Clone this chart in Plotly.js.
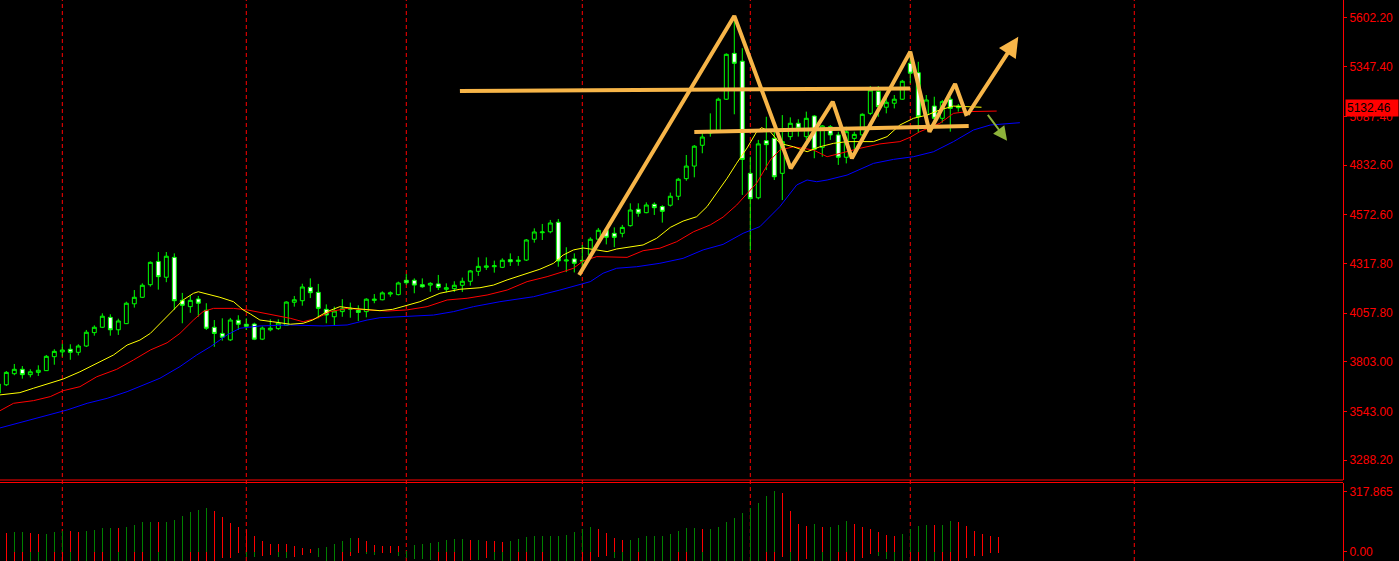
<!DOCTYPE html>
<html>
<head>
<meta charset="utf-8">
<script src="https://cdn.plot.ly/plotly-3.0.1.min.js"></script>
<style>html,body{margin:0;padding:0;background:#000;}#chart{width:1399px;height:561px;}</style>
</head>
<body>
<div id="chart"></div>
<script>
// ---- Candles (index -1 .. 119) ----
const openP  = [3639,3682,3740,3763,3735,3747,3756,3829,3854,3868,3852,3885,3955,3983,4035,3970,4002,4106,4140,4206,4328,4245,4349,4124,4091,4131,4072,3983,3951,3917,4020,3999,4000,3921,3970,3976,3993,4114,4122,4192,4166,4077,4038,4065,4077,4072,4065,4124,4127,4157,4154,4229,4229,4206,4204,4210,4182,4185,4203,4224,4276,4297,4300,4297,4337,4328,4335,4444,4478,4483,4533,4330,4341,4329,4361,4444,4491,4475,4475,4515,4601,4583,4627,4615,4622,4669,4761,4827,4936,5000,5012,5177,5417,5376,4789,4661,4960,4972,4789,4981,5051,4981,5089,4925,5033,4990,4873,4972,4990,5103,5218,5135,5156,5177,5365,5316,5094,5141,5077,5177,5141];
const highP  = [3707,3754,3791,3780,3763,3784,3838,3868,3896,3894,3894,3969,3993,4056,4051,4028,4117,4178,4213,4328,4377,4377,4370,4163,4150,4147,4109,4021,4030,4032,4046,4030,4007,3988,4025,4025,4119,4147,4211,4239,4210,4103,4091,4130,4112,4098,4135,4157,4171,4171,4222,4262,4239,4239,4219,4257,4213,4224,4243,4283,4349,4349,4332,4344,4370,4356,4445,4501,4524,4545,4550,4402,4370,4414,4454,4503,4501,4506,4519,4632,4632,4637,4637,4622,4688,4765,4885,4937,4999,5103,5185,5417,5613,5444,4876,4964,5085,5007,5094,5082,5072,5112,5094,5042,5042,5007,5033,5007,5103,5246,5246,5190,5199,5278,5417,5373,5199,5190,5173,5190,5152];
const lowP   = [3623,3676,3732,3714,3721,3728,3754,3787,3829,3813,3836,3880,3939,3979,3939,3943,4000,4086,4136,4196,4180,4219,4074,4004,4059,4038,3969,3881,3913,3911,3969,3969,3916,3916,3962,3969,3990,4091,4096,4136,4030,4004,3991,4038,4033,4016,4035,4109,4124,4143,4150,4206,4161,4190,4169,4178,4166,4168,4168,4201,4252,4283,4269,4293,4304,4305,4330,4426,4440,4475,4300,4272,4270,4293,4351,4435,4417,4402,4454,4510,4562,4580,4571,4531,4615,4649,4750,4768,4894,4981,5009,5173,5098,4676,4388,4653,4806,4754,4649,4964,4981,4964,4868,4876,4964,4833,4841,4911,4981,5094,5085,5103,5129,5173,5260,5001,5068,5042,5054,5007,5112];
const closeP = [3686,3747,3763,3735,3750,3758,3831,3857,3864,3852,3885,3957,3983,4041,3970,4016,4109,4140,4203,4323,4248,4355,4122,4098,4124,4109,3978,3951,3931,4021,3999,3988,3921,3979,3978,4005,4115,4127,4194,4164,4082,4047,4068,4080,4082,4061,4130,4130,4163,4163,4215,4216,4204,4195,4213,4192,4190,4203,4224,4278,4302,4304,4305,4334,4326,4334,4440,4482,4482,4529,4330,4335,4318,4333,4444,4491,4454,4454,4506,4597,4580,4623,4609,4590,4669,4758,4827,4931,4979,5011,5177,5412,5365,4862,4656,4943,4939,4771,4955,5051,5025,5077,4915,5037,4990,4873,5007,4993,5098,5225,5138,5161,5177,5271,5313,5085,5173,5077,5164,5129,5132.46];
const firstIndex = -1;
const lastPrice = 5132.46;

// ---- Moving averages (bar index, value) ----
const maFastIdx = [-0.8,1.7,3.4,5.5,7.1,9.2,11.3,13.4,15.1,16.7,18.0,19.2,20.9,22.1,23.4,24.0,25.1,26.7,28.4,29.6,30.5,31.7,33.3,35.5,37.1,38.3,40.1,41.7,43.3,45.1,46.7,48.3,50.1,51.7,54.2,56.7,59.2,60.9,62.6,65.1,66.7,68.4,69.6,70.9,72.1,73.8,75.1,76.3,78.0,79.6,81.3,83.0,84.6,86.3,87.6,88.8,90.1,91.3,92.6,93.8,94.4,95.5,96.7,98.4,100.1,101.7,103.4,105.1,106.7,108.4,110.1,111.7,113.4,115.1,116.7,118.4,120.1,121.9];
const maFastVal = [3629,3641,3664,3693,3712,3750,3794,3838,3890,3916,3951,4004,4074,4126,4161,4169,4157,4140,4117,4074,4053,4021,4012,3999,4004,4021,4065,4091,4082,4077,4070,4077,4100,4117,4161,4182,4190,4204,4231,4266,4287,4318,4361,4388,4398,4388,4379,4393,4405,4414,4449,4506,4539,4562,4615,4685,4763,4842,4922,5007,5028,5007,4946,4928,4902,4928,4946,4955,4955,4955,4981,5042,5077,5094,5121,5141,5138,5135];
const maMidIdx = [-0.8,0.9,3.4,5.5,7.1,9.2,11.3,13.8,15.9,18.0,20.1,21.7,23.4,24.6,25.9,28.4,30.1,30.9,33.4,35.5,37.1,38.8,40.5,42.6,45.1,47.6,50.1,52.6,55.1,57.6,60.1,62.6,65.1,67.6,69.6,70.9,72.1,73.8,77.6,79.6,81.7,83.8,85.9,88.0,89.6,91.3,92.1,93.8,95.5,96.7,98.4,100.9,102.6,104.2,106.7,109.2,111.7,113.0,114.2,116.7,118.4,120.1,122.1,123.8];
const maMidVal = [3546,3585,3599,3620,3651,3672,3724,3763,3812,3864,3902,3951,4021,4065,4082,4082,4074,4068,4047,4030,4012,4030,4065,4082,4074,4068,4074,4091,4126,4135,4152,4178,4222,4248,4274,4292,4330,4353,4349,4384,4397,4431,4483,4519,4560,4623,4660,4738,4859,4911,4928,4911,4876,4894,4920,4943,4955,4978,5007,5051,5103,5112,5112,5115];
const maSlowIdx = [-0.8,3.0,5.5,7.6,10.1,12.6,15.1,17.1,19.2,21.7,23.8,25.5,27.6,29.2,30.5,31.7,35.5,39.6,42.6,45.1,46.7,50.1,53.4,55.9,58.4,61.7,65.9,69.2,73.0,74.6,76.3,78.8,81.7,84.6,87.1,89.6,92.1,94.2,96.7,98.8,100.1,101.3,102.6,105.1,108.4,110.9,113.4,115.9,118.4,120.9,123.0,126.7];
const maSlowVal = [3456,3498,3524,3550,3585,3611,3646,3681,3716,3777,3838,3881,3943,3978,3986,3990,3995,3990,3995,4021,4033,4042,4047,4065,4091,4117,4143,4178,4222,4266,4292,4300,4318,4344,4388,4417,4475,4510,4615,4728,4754,4745,4754,4780,4841,4862,4876,4902,4955,5016,5042,5054];

// ---- Indicator sub-window (index 0 .. 124) ----
const indUpper = [97.8,103.1,103.1,97.8,92.6,92.6,103.1,108.3,108.3,103.1,108.3,113.5,124.0,124.0,124.0,129.3,139.7,155.5,155.5,155.5,155.5,165.9,186.9,207.9,218.3,228.8,213.1,181.7,150.2,129.3,113.5,82.1,55.9,40.2,40.2,40.2,29.7,19.2,14.0,19.2,24.5,40.2,55.9,71.6,71.6,55.9,34.9,29.7,29.7,29.7,3.5,34.9,40.2,45.4,50.7,61.1,66.4,66.4,61.1,61.1,55.9,55.9,50.7,55.9,66.4,76.9,82.1,82.1,82.1,82.1,87.3,103.1,118.8,129.3,118.8,97.8,71.6,61.1,61.1,71.6,82.1,82.1,82.1,92.6,108.3,124.0,124.0,118.8,118.8,129.3,155.5,176.4,202.6,228.8,255.0,291.7,317.865,307.4,213.1,145.0,134.5,145.0,129.3,129.3,139.7,160.7,145.0,129.3,118.8,103.1,87.3,82.1,92.6,118.8,134.5,139.7,139.7,139.7,160.7,155.5,134.5,108.3,92.6,82.1,76.9];
const indUpperUp = [0,1,1,0,0,1,1,1,0,0,1,1,1,1,0,1,1,1,1,0,1,1,1,1,1,1,0,0,0,0,0,0,0,0,0,0,0,0,0,1,1,1,1,1,0,0,0,0,0,0,1,1,1,1,1,1,1,1,0,1,0,0,0,1,1,1,1,1,1,1,1,1,1,1,0,0,0,0,1,1,1,1,1,1,1,1,1,0,1,1,1,1,1,1,1,1,1,0,0,0,0,1,0,1,1,1,0,0,0,0,0,0,1,1,1,1,0,1,1,0,0,0,0,0,0];
const indLower = [-50,-50,-50,-50,-50,-50,-50,-50,-50,-50,-50,-50,-50,-50,-50,-50,-50,-50,-50,-50,-50,-50,-50,-50,-50,-50,-50,-34.9,-33.2,-7.0,-27.9,-27.9,-21.0,-17.5,-27.9,-31.4,-27.9,-17.5,-7.0,-27.9,-50,-50,-50,-21.0,-7.0,-12.2,-17.5,-7.0,-7.0,-22.7,-34.9,-38.4,-38.4,-43.7,-50,-50,-50,-50,-43.7,-43.7,-34.9,-43.7,-50,-50,-50,-50,-50,-50,-50,-50,-50,-50,-50,-50,-27.9,-22.7,-33.2,-50,-50,-50,-50,-50,-50,-50,-50,-50,-50,-50,-50,-50,-50,-50,-50,-50,-50,-50,-50,-27.9,-50,-50,-38.4,-50,-50,-50,-50,-50,-50,-33.2,-12.2,-22.7,-40.2,-50,-50,-50,-50,-50,-50,-50,-50,-50,-33.2,-22.7,-22.7,-7.0,-7.0];
const indLowerUp = [0,0,0,1,1,1,0,0,1,0,1,0,0,1,1,1,0,0,1,1,1,1,1,0,0,0,0,0,0,0,1,1,0,0,1,1,0,0,0,1,1,1,0,0,0,1,1,0,0,1,1,1,1,1,0,0,0,1,0,1,0,1,1,1,0,0,1,0,1,1,1,1,0,0,0,0,1,1,1,0,1,1,1,1,0,0,1,1,1,1,1,1,1,1,1,0,0,0,1,0,0,1,1,1,0,0,0,0,0,1,1,1,1,0,0,1,1,0,0,0,0,0,0,0,0];

// ---- Axis labels ----
const priceTicks = [5602.20,5347.40,5087.40,4832.60,4572.60,4317.80,4057.80,3803.00,3543.00,3288.20];
const priceTickText = ['5602.20','5347.40','5087.40','4832.60','4572.60','4317.80','4057.80','3803.00','3543.00','3288.20'];
const indTicks = [0, 317.865];
const indTickText = ['0.00','317.865'];
const separators = [7,30,50,72,93,113,141];

// ---- Hand-drawn analysis lines (bar index, price) ----
const zigIdx = [71.6,91.0,98.05,103.3,105.7,113.0,115.4,118.6,120.05];
const zigVal = [4257,5613,4815,5164,4868,5426,5007,5257,5089];
const arrowTip = [126.5,5504];
const resistIdx = [56.7,113.0];
const resistVal = [5220,5233];
const supportIdx = [86.0,120.3];
const supportVal = [5005,5037];
const smallArrowFrom = [122.55,5103];
const smallArrowTo = [125.1,4960];

// ---- build ----
const idx = openP.map((_, i) => i + firstIndex);
const indIdx = indUpper.map((_, i) => i);
const GREEN = '#00FF00', RED = '#FF0000', DKGREEN = '#008000', ORANGE = '#F7B548';

const traces = [
  {type:'bar', x:indIdx, y:indUpper, base:0, width:0.14, xaxis:'x', yaxis:'y2',
   marker:{color:indUpperUp.map(u=>u?DKGREEN:RED), line:{width:0}}, hoverinfo:'skip'},
  {type:'bar', x:indIdx, y:indLower, base:0, width:0.14, xaxis:'x', yaxis:'y2',
   marker:{color:indLowerUp.map(u=>u?DKGREEN:RED), line:{width:0}}, hoverinfo:'skip'},
  {type:'scatter', mode:'lines', x:maSlowIdx, y:maSlowVal, line:{color:'#0000FF', width:1}, hoverinfo:'skip'},
  {type:'scatter', mode:'lines', x:maMidIdx, y:maMidVal, line:{color:'#FF0000', width:1}, hoverinfo:'skip'},
  {type:'scatter', mode:'lines', x:maFastIdx, y:maFastVal, line:{color:'#FFFF00', width:1}, hoverinfo:'skip'},
  {type:'candlestick', x:idx, open:openP, high:highP, low:lowP, close:closeP, whiskerwidth:0,
   increasing:{line:{color:GREEN, width:1}, fillcolor:'#000000'},
   decreasing:{line:{color:GREEN, width:1}, fillcolor:'#FFFFFF'}, hoverinfo:'skip'},
  {type:'scatter', mode:'lines', x:resistIdx, y:resistVal, line:{color:ORANGE, width:4}, hoverinfo:'skip'},
  {type:'scatter', mode:'lines', x:supportIdx, y:supportVal, line:{color:ORANGE, width:4}, hoverinfo:'skip'},
  {type:'scatter', mode:'lines', x:zigIdx, y:zigVal, line:{color:ORANGE, width:4}, hoverinfo:'skip'}
];

const shapes = [
  {type:'line', xref:'paper', yref:'paper', x0:0, x1:1, y0:(561-480)/561, y1:(561-480)/561, line:{color:RED, width:1}},
  {type:'line', xref:'paper', yref:'paper', x0:0, x1:1, y0:(561-482.5)/561, y1:(561-482.5)/561, line:{color:RED, width:1}}
];
separators.forEach(s => shapes.push({type:'line', xref:'x', yref:'paper', x0:s, x1:s, y0:0, y1:1, layer:'below',
  line:{color:RED, width:1, dash:'4px,3px'}}));

const annotations = [
  {xref:'x', yref:'y', x:arrowTip[0], y:arrowTip[1], axref:'x', ayref:'y',
   ax:zigIdx[zigIdx.length-1], ay:zigVal[zigVal.length-1], text:'', showarrow:true,
   arrowhead:2, arrowsize:1, arrowwidth:4, arrowcolor:ORANGE, standoff:0, startstandoff:0},
  {xref:'x', yref:'y', x:smallArrowTo[0], y:smallArrowTo[1], axref:'x', ayref:'y',
   ax:smallArrowFrom[0], ay:smallArrowFrom[1], text:'', showarrow:true,
   arrowhead:2, arrowsize:1.4, arrowwidth:2, arrowcolor:'#8DB23A', standoff:0, startstandoff:0},
  {xref:'paper', yref:'y', x:1, y:lastPrice, xanchor:'left', xshift:2, showarrow:false,
   text:lastPrice.toFixed(2), bgcolor:RED, borderpad:1, width:50, align:'left',
   font:{family:'Liberation Sans, Arial, sans-serif', size:12, color:'#000000'}}
];

const axisFont = {family:'Liberation Sans, Arial, sans-serif', size:12, color:RED};
const layout = {
  width:1399, height:561,
  margin:{l:0, r:56, t:0, b:0, pad:0},
  paper_bgcolor:'#000000', plot_bgcolor:'#000000',
  showlegend:false, barmode:'overlay', bargap:0,
  xaxis:{range:[-0.79, 167.09], showgrid:false, zeroline:false, showticklabels:false, ticks:'',
         showline:false, rangeslider:{visible:false}, fixedrange:true},
  yaxis:{domain:[(561-480)/561, 1], range:[3183.5, 5696.4], side:'right', anchor:'x',
         tickvals:priceTicks, ticktext:priceTickText, tickfont:axisFont,
         ticks:'outside', ticklen:3, tickcolor:RED, showline:true, linecolor:RED, linewidth:1,
         showgrid:false, zeroline:false, fixedrange:true},
  yaxis2:{domain:[0, (561-482.5)/561], range:[-48.7, 365.2], side:'right', anchor:'x',
         tickvals:indTicks, ticktext:indTickText, tickfont:axisFont,
         ticks:'outside', ticklen:3, tickcolor:RED, showline:true, linecolor:RED, linewidth:1,
         showgrid:false, zeroline:false, fixedrange:true},
  shapes:shapes, annotations:annotations
};

Plotly.newPlot('chart', traces, layout, {displayModeBar:false, staticPlot:true});
</script>
</body>
</html>
